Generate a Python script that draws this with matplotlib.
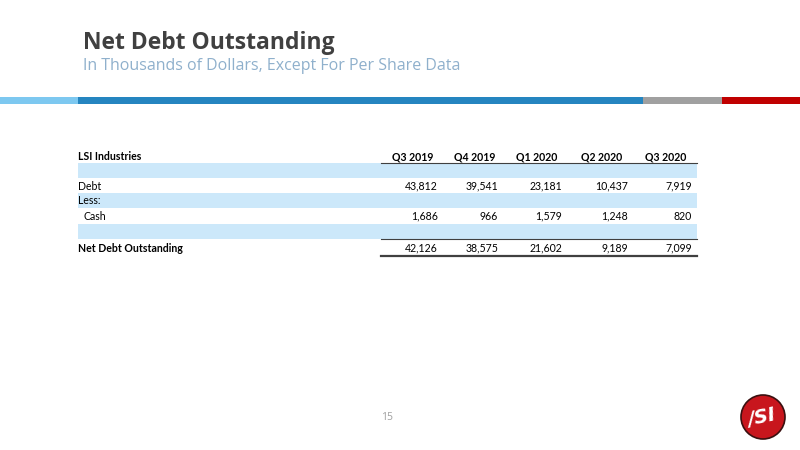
import matplotlib.pyplot as plt
from matplotlib.patches import Rectangle, Circle

title = "Net Debt Outstanding"
subtitle = "In Thousands of Dollars, Except For Per Share Data"

columns = ["Q3 2019", "Q4 2019", "Q1 2020", "Q2 2020", "Q3 2020"]
debt = [43812, 39541, 23181, 10437, 7919]
cash = [1686, 966, 1579, 1248, 820]
net_debt = [42126, 38575, 21602, 9189, 7099]

fig = plt.figure(figsize=(8, 4.5), dpi=100)
ax = fig.add_axes([0, 0, 1, 1])
ax.set_xlim(0, 800)
ax.set_ylim(450, 0)
ax.axis("off")

# title block
ax.text(83, 43, title, fontsize=16.5, fontweight="bold", color="#404040",
        family="Open Sans", va="center", ha="left")
ax.text(83, 66.5, subtitle, fontsize=11.5, color="#8FB0CC",
        family="Open Sans", va="center", ha="left")

# coloured strip under the title
strip = [(0, 78, "#7DC8F0"), (78, 643, "#2585C0"),
         (643, 722, "#A0A0A0"), (722, 800, "#C00000")]
for x0, x1, c in strip:
    ax.add_patch(Rectangle((x0, 97), x1 - x0, 7, color=c, lw=0))

# table
font = "Lato"
fs = 7.6
left = 78
right = 697
col_right = [438, 498, 562, 628, 692]
head_right = [433, 495, 557, 622, 686]

band = "#CCE8FA"
for y0, y1 in [(163, 178), (193, 208), (224, 239)]:
    ax.add_patch(Rectangle((left, y0), right - left, y1 - y0, color=band, lw=0))

ax.text(left, 157, "LSI Industries", fontsize=fs, fontweight="bold",
        family=font, va="center")
for x, lab in zip(head_right, columns):
    ax.text(x, 157, lab, fontsize=fs, fontweight="bold", family=font,
            va="center", ha="right")

ax.plot([381, right], [163, 163], color="#404040", lw=0.8)
ax.plot([381, right], [239.3, 239.3], color="#404040", lw=0.8)
ax.plot([381, right], [255.5, 255.5], color="#404040", lw=1.6)

rows = [("Debt", debt, 186, left, False),
        ("Less:", None, 201, left, False),
        ("Cash", cash, 216, left + 5, False),
        ("Net Debt Outstanding", net_debt, 248, left, True)]
for lab, vals, y, x0, bold in rows:
    w = "bold" if bold else "normal"
    ax.text(x0, y, lab, fontsize=fs, fontweight=w, family=font, va="center")
    if vals is None:
        continue
    for x, v in zip(col_right, vals):
        ax.text(x, y, f"{v:,}", fontsize=fs, family=font, va="center", ha="right")

# page number
ax.text(387, 417, "15", fontsize=7.5, color="#A0A0A0", family="Open Sans",
        va="center", ha="center")

# logo
ax.add_patch(Circle((763, 417), 22, facecolor="#C8161D", edgecolor="#3A1010", lw=1.2))
ax.text(762, 418, "/SI", fontsize=14, fontweight="bold", style="italic",
        color="white", family="DejaVu Sans", va="center", ha="center", rotation=12)

fig.savefig("out.png", dpi=100)
